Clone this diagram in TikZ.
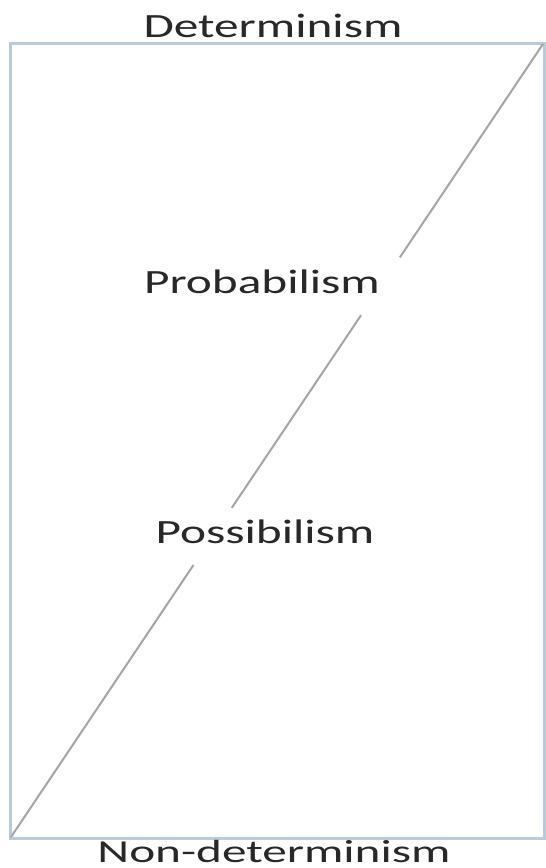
\documentclass[tikz,border=0pt]{standalone}
\usepackage{fontspec}
\setmainfont{Carlito}
\usepackage{graphicx}
\usetikzlibrary{calc}
\definecolor{framec}{RGB}{186,202,218}
\definecolor{diagc}{RGB}{165,165,165}
\definecolor{txtc}{RGB}{40,40,40}
\newcommand{\wide}[1]{\scalebox{1.45}[1]{#1}}
\newcommand{\wider}[1]{\scalebox{1.54}[1]{#1}}
\tikzset{
  frame/.style={draw=framec, line width=3pt},
  diag/.style={draw=diagc, line width=2pt},
  lbl/.style={anchor=base, inner sep=0pt, text depth=0pt, text=txtc, font=\fontsize{34}{40}\selectfont},
  lblsm/.style={lbl, font=\fontsize{32}{38}\selectfont}
}
\begin{document}
\begin{tikzpicture}[x=1pt,y=-1pt]
\useasboundingbox (0,0) rectangle (546,868);
\fill[white] (0,0) rectangle (546,868);
\draw[frame] (10,43) rectangle (544,838);
\coordinate (bl) at (11,837);
\coordinate (tr) at (543,44);
\coordinate (g1) at ($(bl)!0.343!(tr)$);
\coordinate (g2) at ($(bl)!0.415!(tr)$);
\coordinate (g3) at ($(bl)!0.658!(tr)$);
\coordinate (g4) at ($(bl)!0.731!(tr)$);
\draw[diag] (bl) -- (g1);
\draw[diag] (g2) -- (g3);
\draw[diag] (g4) -- (tr);
\node[lbl] (det) at (273,37) {\wide{Determinism}};
\node[lblsm] (nondet) at (274,862) {\wider{Non-determinism}};
\node[lbl] (prob) at (262,293) {\wide{Probabilism}};
\node[lbl] (poss) at (265,543) {\wide{Possibilism}};
\end{tikzpicture}
\end{document}
